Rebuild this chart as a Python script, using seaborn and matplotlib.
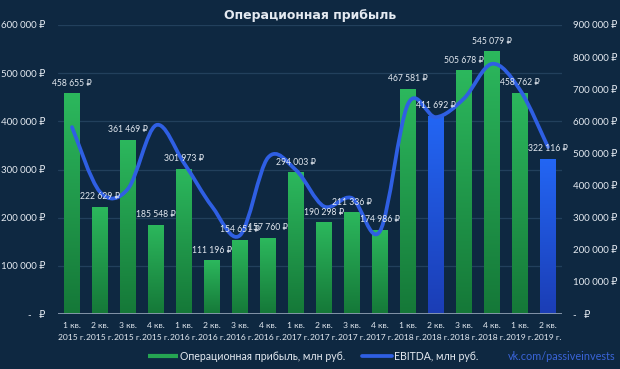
import numpy as np
import matplotlib.pyplot as plt
import seaborn as sns
from matplotlib.path import Path
from matplotlib.patches import PathPatch
from matplotlib.lines import Line2D
from matplotlib.colors import LinearSegmentedColormap

quarters = ["1 кв.", "2 кв.", "3 кв.", "4 кв."] * 4 + ["1 кв.", "2 кв."]
years = ["2015 г."] * 4 + ["2016 г."] * 4 + ["2017 г."] * 4 + ["2018 г."] * 4 + ["2019 г."] * 2
op_profit = [458655, 222629, 361469, 185548, 301973, 111196, 154651, 157760, 294003,
             190298, 211336, 174986, 467581, 411692, 505678, 545079, 458762, 322116]
ebitda = [582000, 380000, 390000, 588000, 470000, 335000, 245000, 487000, 448000,
          335000, 361000, 258000, 654000, 613000, 671000, 779000, 698000, 520000]
blue_bars = [13, 17]

BG = "#0e2841"
TXT = "#e4eaf1"
LINE = "#2f5fe3"

sns.set_theme(style="dark")
plt.rcParams["font.family"] = ["Lato", "DejaVu Sans"]
plt.rcParams["axes.facecolor"] = BG
plt.rcParams["figure.facecolor"] = BG


def rub(v):
    if v == 0:
        return "-   ₽"
    return f"{v:,.0f}".replace(",", " ") + " ₽"


labels = [f"{q}\n{y}" for q, y in zip(quarters, years)]

fig = plt.figure(figsize=(6.2, 3.69), dpi=100)
ax = fig.add_axes([58 / 620, 1 - 314 / 369, 504 / 620, 289 / 369])
sns.barplot(x=labels, y=op_profit, color="#2bb55c", width=0.57, ax=ax, zorder=2)

# vertical gradient in every bar
green_cmap = LinearSegmentedColormap.from_list("g", ["#157838", "#2cb85d"])
blue_cmap = LinearSegmentedColormap.from_list("b", ["#1b3db5", "#2366f4"])
grad = np.linspace(0, 1, 256).reshape(-1, 1)
bars = sorted(ax.patches, key=lambda p: p.get_x())
for i, patch in enumerate(bars):
    x0, w, h = patch.get_x(), patch.get_width(), patch.get_height()
    cmap = blue_cmap if i in blue_bars else green_cmap
    im = ax.imshow(grad, extent=[x0, x0 + w, 0, h], origin="lower", aspect="auto",
                   cmap=cmap, zorder=2)
    im.set_clip_path(patch)
    patch.set_facecolor("none")
    patch.set_edgecolor("none")

ax.set_xlim(-0.5, len(labels) - 0.5)
ax.set_ylim(0, 600000)
ax.set_yticks(range(0, 600001, 100000))
ax.set_yticklabels([rub(v) for v in range(0, 600001, 100000)])
ax.grid(axis="y", color="#22405c", lw=0.9)
ax.grid(axis="x", visible=False)
ax.axhline(0, color="#8b9bb0", lw=1.3, zorder=3)
for s in ax.spines.values():
    s.set_visible(False)
ax.tick_params(axis="y", length=0, pad=9, labelsize=7, labelcolor=TXT)
ax.tick_params(axis="x", length=0, pad=6, labelsize=6.1, labelcolor=TXT)
for t in ax.get_xticklabels():
    t.set_linespacing(1.75)

ax2 = ax.twinx()
ax2.set_ylim(0, 900000)
ax2.set_yticks(range(0, 900001, 100000))
ax2.set_yticklabels([rub(v) for v in range(0, 900001, 100000)])
ax2.grid(False)
for s in ax2.spines.values():
    s.set_visible(False)
ax2.tick_params(axis="y", length=0, pad=8, labelsize=7, labelcolor=TXT)

# smoothed EBITDA line (bezier through the quarterly points)
pts = np.column_stack([np.arange(len(ebitda)), ebitda]).astype(float)
padded = np.vstack([pts[0], pts, pts[-1]])
verts = [pts[0]]
codes = [Path.MOVETO]
for k in range(len(pts) - 1):
    p0, p1, p2, p3 = padded[k], padded[k + 1], padded[k + 2], padded[k + 3]
    verts += [p1 + (p2 - p0) / 6, p2 - (p3 - p1) / 6, p2]
    codes += [Path.CURVE4] * 3
ax2.add_patch(PathPatch(Path(verts, codes), fill=False, edgecolor=LINE, lw=2.7,
                        capstyle="round", joinstyle="round", zorder=3))

for i, v in enumerate(op_profit):
    ax2.annotate(rub(v), xy=(i, v), xycoords=ax.transData, xytext=(0, 4),
                 textcoords="offset points", ha="center", va="bottom",
                 fontsize=6.2, color=TXT, zorder=5)

fig.text(0.5, 1 - 16 / 369, "Операционная прибыль", ha="center", va="center",
         fontsize=9, fontweight="bold", color=TXT, family="DejaVu Sans")

handles = [Line2D([0], [0], color="#25a552", lw=3, solid_capstyle="butt"),
           Line2D([0], [0], color=LINE, lw=2.7)]
fig.legend(handles, ["Операционная прибыль, млн руб.", "EBITDA, млн руб."],
           loc="center", bbox_to_anchor=(0.505, 1 - 356 / 369), ncol=2, frameon=False,
           fontsize=7.6, labelcolor=TXT, handlelength=2.8, handletextpad=0.2,
           columnspacing=1.6)
fig.text(615 / 620, 1 - 356 / 369, "vk.com/passiveinvests", ha="right", va="center",
         fontsize=7.8, color="#3a64d8")

fig.savefig("out.png", dpi=100, facecolor=BG)
